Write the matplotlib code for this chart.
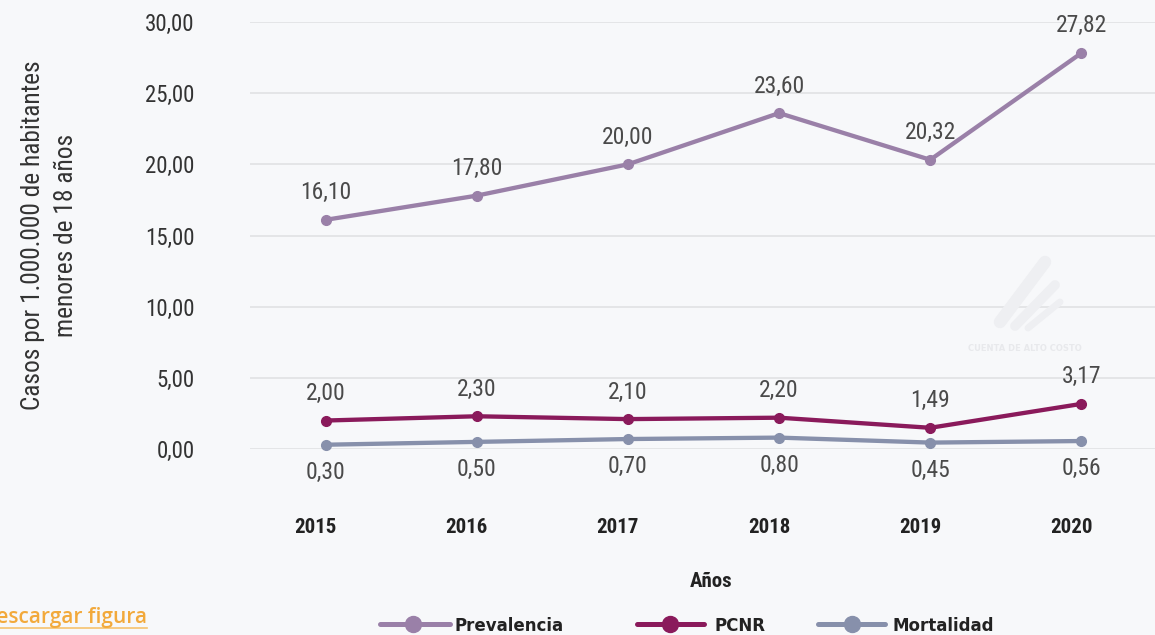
import matplotlib
matplotlib.use("Agg")
import matplotlib.pyplot as plt
from matplotlib.lines import Line2D
from matplotlib import font_manager as fm
from matplotlib.transforms import ScaledTranslation

years = ["2015", "2016", "2017", "2018", "2019", "2020"]
prevalencia = [16.10, 17.80, 20.00, 23.60, 20.32, 27.82]
pcnr = [2.00, 2.30, 2.10, 2.20, 1.49, 3.17]
mortalidad = [0.30, 0.50, 0.70, 0.80, 0.45, 0.56]
series_names = ["Prevalencia", "PCNR", "Mortalidad"]
y_ticks = [0, 5, 10, 15, 20, 25, 30]


def pick_family(candidates):
    for name in candidates:
        try:
            fm.findfont(fm.FontProperties(family=name), fallback_to_default=False)
            return name
        except ValueError:
            continue
    return "DejaVu Sans"


NARROW_FAMILY = pick_family(["Roboto Condensed", "Liberation Sans Narrow", "Open Sans Condensed"])
NARROW = dict(family=NARROW_FAMILY)

W, H = 1155, 635
BG = "#f7f8fa"
C_PREV = "#9a80a8"
C_PCNR = "#8a1a5b"
C_MORT = "#8790ab"
colors = [C_PREV, C_PCNR, C_MORT]


def fmt(v):
    return f"{v:.2f}".replace(".", ",")


def fx(px):
    return px / W


def fy(py):
    return 1 - py / H


fig = plt.figure(figsize=(W / 100, H / 100), dpi=100, facecolor=BG)
ax = fig.add_axes([fx(250), fy(449), fx(907), 427 / H])
ax.set_facecolor(BG)
ax.set_xlim(-0.5, 5.5)
ax.set_ylim(0, 30)
for s in ax.spines.values():
    s.set_visible(False)

ax.set_yticks(y_ticks)
ax.set_yticklabels([fmt(t) for t in y_ticks], fontsize=16.5, color="#333333", **NARROW)
ax.tick_params(axis="y", length=0, pad=40)
ax.yaxis.grid(True, color="#e2e3e6", linewidth=1.3)
ax.set_axisbelow(True)

x = list(range(len(years)))
ax.set_xticks(x)
ax.set_xticklabels(years, fontsize=15, fontweight="bold", color="#222222", **NARROW)
ax.tick_params(axis="x", length=0, pad=50)
# year labels sit slightly left of their points
shift = ScaledTranslation(-10 / 100, 0, fig.dpi_scale_trans)
for lbl in ax.get_xticklabels():
    lbl.set_transform(lbl.get_transform() + shift)

ax.set_ylabel("Casos por 1.000.000 de habitantes\nmenores de 18 años", fontsize=18.3,
              color="#333333", labelpad=48, linespacing=1.5, **NARROW)
ax.set_xlabel("Años", fontsize=15, fontweight="bold", color="#222222", labelpad=25, **NARROW)
ax.xaxis.label.set_transform(ax.xaxis.label.get_transform()
                             + ScaledTranslation(8 / 100, 0, fig.dpi_scale_trans))

offsets = [19.5, 19.5, -20]
for vals, col, off, name in zip([prevalencia, pcnr, mortalidad], colors, offsets, series_names):
    ax.plot(x, vals, color=col, linewidth=3.1, marker="o", markersize=7,
            solid_capstyle="round", clip_on=False, label=name)
    for xi, v in zip(x, vals):
        ax.annotate(fmt(v), (xi, v), xytext=(0, off), textcoords="offset points",
                    ha="center", va="center", fontsize=17, color="#4a4a4a", **NARROW)

# legend drawn as individual keys along the bottom edge
leg_y = 624
leg_keys = [(380, 450, 413, 455), (637, 704, 670, 715), (818, 885, 852, 893)]
for (x0, x1, xm, xt), col, name in zip(leg_keys, colors, series_names):
    fig.add_artist(Line2D([fx(x0), fx(x1)], [fy(leg_y)] * 2, color=col, linewidth=3.6,
                          solid_capstyle="round"))
    fig.add_artist(Line2D([fx(xm)], [fy(leg_y)], color=col, marker="o", markersize=11.5,
                          linestyle="none"))
    fig.text(fx(xt), fy(leg_y + 2), name, fontsize=12, fontweight="bold", color="#222222",
             ha="left", va="center")

# faint watermark: logo swooshes and caption
for (x0, y0, x1, y1, lw) in [(1000, 322, 1045, 262, 9), (1015, 326, 1055, 285, 7),
                             (1028, 328, 1060, 302, 5)]:
    fig.add_artist(Line2D([fx(x0), fx(x1)], [fy(y0), fy(y1)], color="#eeeff2",
                          linewidth=lw, solid_capstyle="round"))
fig.text(fx(1025), fy(348), "CUENTA DE ALTO COSTO", fontsize=6, color="#e8e9ec",
         ha="center", va="center", fontweight="bold")

# download link at the lower-left corner
fig.text(fx(147), fy(617), "Descargar figura", fontsize=15, color="#f2a93b",
         ha="right", va="center", family="Open Sans", fontweight="semibold")
fig.add_artist(Line2D([0, fx(147)], [fy(628)] * 2, color="#f6c36e", linewidth=1.2))

fig.savefig("out.png", dpi=100, facecolor=BG)
